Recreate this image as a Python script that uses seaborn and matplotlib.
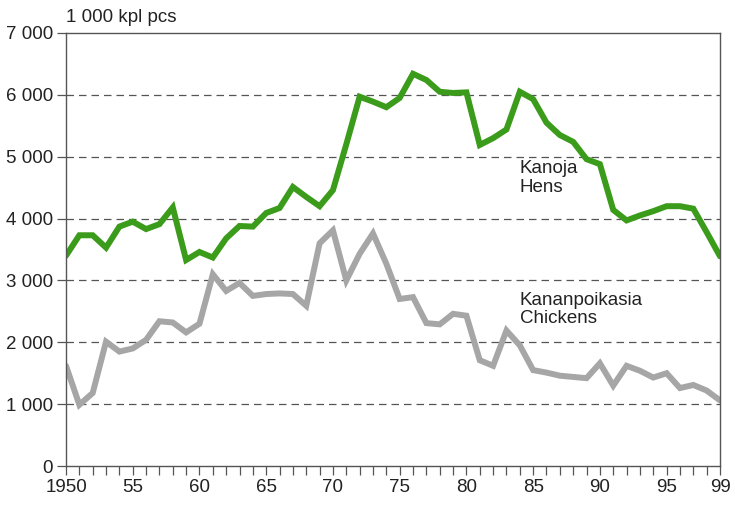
"""Hens and chickens in Finland, 1950-1999 (1 000 pcs)."""

import matplotlib

matplotlib.use("Agg")
import matplotlib.pyplot as plt
import pandas as pd
import seaborn as sns
from matplotlib.ticker import FuncFormatter

YEARS = list(range(1950, 2000))

# Kanoja / Hens, 1 000 pcs
HENS = [
    3400, 3730, 3730, 3530, 3870, 3950, 3830, 3910, 4180, 3330,
    3460, 3370, 3680, 3880, 3870, 4090, 4170, 4510, 4350, 4200,
    4460, 5200, 5970, 5890, 5800, 5950, 6340, 6240, 6050, 6030,
    6040, 5190, 5300, 5440, 6050, 5930, 5550, 5350, 5240, 4960,
    4880, 4140, 3970, 4050, 4120, 4200, 4200, 4160, 3780, 3390,
]

# Kananpoikasia / Chickens, 1 000 pcs
CHICKENS = [
    1620, 990, 1180, 2010, 1850, 1900, 2040, 2340, 2320, 2160,
    2300, 3100, 2830, 2960, 2750, 2780, 2790, 2780, 2590, 3600,
    3810, 3000, 3430, 3760, 3270, 2700, 2730, 2310, 2290, 2460,
    2430, 1710, 1620, 2190, 1950, 1550, 1510, 1460, 1440, 1420,
    1660, 1300, 1620, 1540, 1430, 1500, 1260, 1310, 1220, 1060,
]

SERIES = {"Hens": HENS, "Chickens": CHICKENS}
PALETTE = {"Hens": "#3b9b1b", "Chickens": "#a6a6a6"}
X_LABELS = {1950: "1950", 1955: "55", 1960: "60", 1965: "65", 1970: "70",
            1975: "75", 1980: "80", 1985: "85", 1990: "90", 1995: "95",
            1999: "99"}

FONT = ["Liberation Sans", "DejaVu Sans"]
FS = 13.5


def build_dataset():
    frames = [pd.DataFrame({"Year": YEARS, "Value": vals, "Series": name})
              for name, vals in SERIES.items()]
    return pd.concat(frames, ignore_index=True)


def main():
    sns.set_theme(style="white")
    plt.rcParams["font.family"] = FONT

    fig = plt.figure(figsize=(7.35, 5.05), dpi=100)
    ax = fig.add_axes([0.0898, 0.0772, 0.8898, 0.8575])

    sns.lineplot(data=build_dataset(), x="Year", y="Value", hue="Series",
                 palette=PALETTE, linewidth=4.3, legend=False, ax=ax,
                 solid_joinstyle="miter")

    ax.set_xlim(1950, 1999)
    ax.set_ylim(0, 7000)
    ax.set_xlabel("")
    ax.set_ylabel("")

    ax.set_xticks(YEARS)
    ax.set_xticklabels([X_LABELS.get(y, "") for y in YEARS])
    ax.set_yticks(range(0, 7001, 1000))
    ax.yaxis.set_major_formatter(
        FuncFormatter(lambda v, _: f"{int(v):,}".replace(",", " ")))

    for v in range(1000, 7000, 1000):
        ax.axhline(v, color="#555555", linewidth=0.9, linestyle=(0, (6, 4)),
                   zorder=0)

    for side in ("left", "right", "top", "bottom"):
        ax.spines[side].set_visible(True)
        ax.spines[side].set_color("#555555")
        ax.spines[side].set_linewidth(1.0)

    ax.tick_params(axis="x", direction="out", length=6.5, width=0.9,
                   color="#555555", labelsize=FS, pad=3, bottom=True,
                   top=False, labelcolor="#222222")
    ax.tick_params(axis="y", direction="out", length=6.5, width=0.9,
                   color="#555555", labelsize=FS, pad=3, left=True,
                   right=False, labelcolor="#222222")

    ax.text(0.0, 1.015, "1 000 kpl pcs", transform=ax.transAxes,
            fontsize=FS, ha="left", va="bottom", color="#222222")
    ax.text(1984.0, 4940, "Kanoja\nHens", fontsize=FS, ha="left", va="top",
            color="#222222", linespacing=1.1)
    ax.text(1984.0, 2820, "Kananpoikasia\nChickens", fontsize=FS, ha="left",
            va="top", color="#222222", linespacing=1.1)

    fig.savefig("out.png", dpi=100)


if __name__ == "__main__":
    main()
